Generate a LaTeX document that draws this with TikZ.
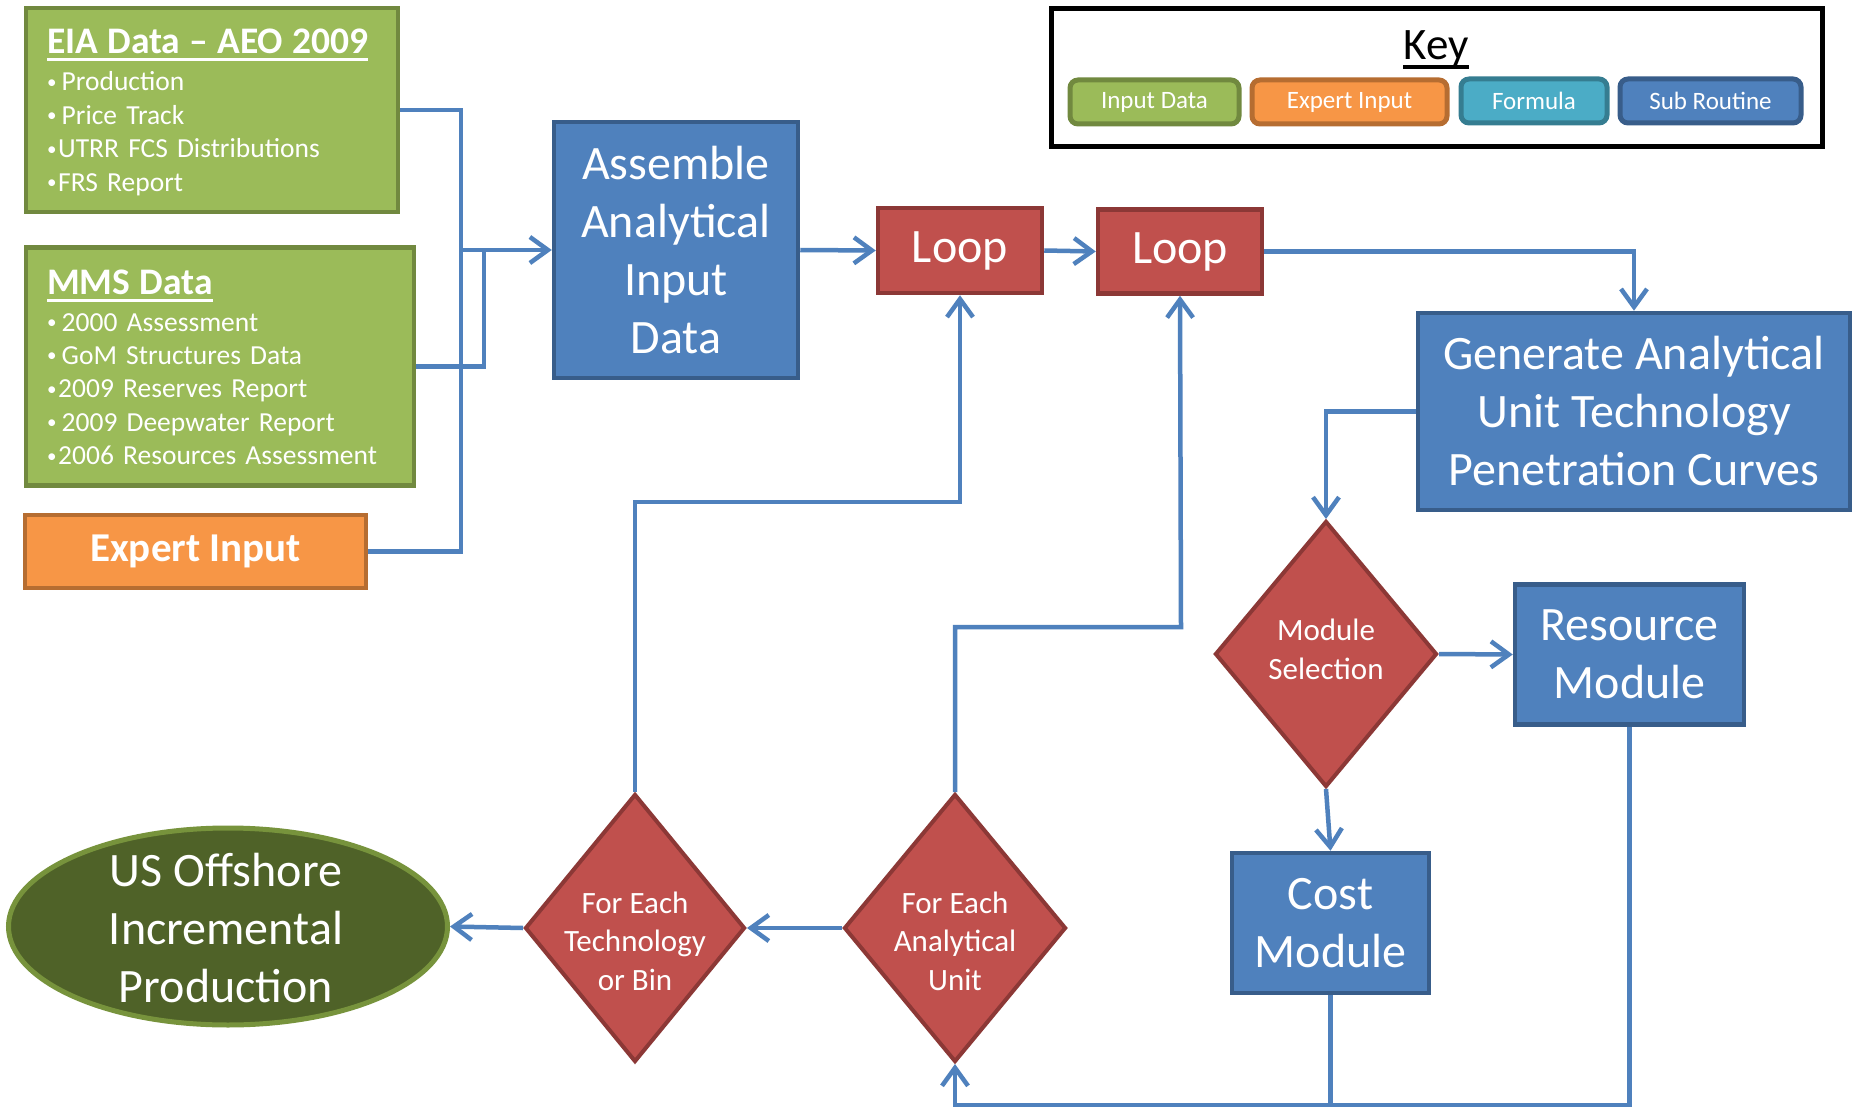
\documentclass[tikz,border=0pt]{standalone}
\usepackage{fontspec}
\setmainfont{Carlito}
\usetikzlibrary{arrows.meta,shapes.geometric}
\definecolor{ingreen}{HTML}{9BBB59}
\definecolor{ingreenD}{HTML}{71893F}
\definecolor{exorange}{HTML}{F79646}
\definecolor{exorangeD}{HTML}{B66D31}
\definecolor{formteal}{HTML}{4BACC6}
\definecolor{formtealD}{HTML}{357D91}
\definecolor{subblue}{HTML}{4F81BD}
\definecolor{subblueD}{HTML}{385D8A}
\definecolor{loopred}{HTML}{C0504D}
\definecolor{loopredD}{HTML}{8C3836}
\definecolor{ellgreen}{HTML}{4F6228}
\definecolor{ellgreenD}{HTML}{77933C}
\definecolor{connblue}{HTML}{4F81BD}
\newcommand{\myul}[1]{\setbox0\hbox{#1}\rlap{\rule[-0.2em]{\wd0}{0.08em}}\box0}
\newcommand{\fsz}[2]{\fontsize{#1}{#2}\selectfont}
\newcommand{\smallbul}{\raisebox{2.5pt}{\fontsize{19}{19}\selectfont•}}
\newcommand{\bulS}{\makebox[14.5pt][l]{\smallbul}}
\newcommand{\bulN}{\makebox[11pt][l]{\smallbul}}
\tikzset{
  boxbase/.style={draw, line width=4.5pt, inner sep=0pt, text=white, align=center},
  inputbox/.style={boxbase, fill=ingreen, draw=ingreenD},
  expertbox/.style={boxbase, fill=exorange, draw=exorangeD},
  subbox/.style={boxbase, fill=subblue, draw=subblueD, font=\fsz{48}{58}},
  loopbox/.style={boxbase, fill=loopred, draw=loopredD, font=\fsz{48}{58}},
  decision/.style={diamond, draw=loopredD, fill=loopred, line width=4pt, inner sep=0pt},
  dtext/.style={text=white, align=center, font=\fsz{31}{38.5}, inner sep=0pt},
  listtext/.style={text=white, align=left, text width=350pt, inner sep=0pt, font=\fsz{27.5}{33.4}},
  legendbox/.style={draw, line width=5pt, rounded corners=8pt, text=white, font=\fsz{25}{30}, inner sep=0pt},
  conn/.style={draw=connblue, line width=4.5pt},
  >={Straight Barb[length=18pt,width=26pt]}
}
\begin{document}
\begin{tikzpicture}[x=1pt,y=-1pt]
\useasboundingbox (0,0) rectangle (1853,1107);
\fill[white] (0,0) rectangle (1853,1107);

% input data boxes
\node[inputbox, minimum width=372pt, minimum height=204pt] (eia) at (212,110) {};
\node[listtext, anchor=base west] (eiaT) at (47,54)
  {{\fsz{37.5}{40}\bfseries\myul{EIA Data – AEO 2009}}\\[3.6pt]
   \bulS Production\\
   \bulS Price Track\\
   \bulN UTRR FCS Distributions\\
   \bulN FRS Report};
\node[inputbox, minimum width=388pt, minimum height=238pt] (mms) at (220,366.5) {};
\node[listtext, anchor=base west] (mmsT) at (47,294.5)
  {{\fsz{37.5}{40}\bfseries\myul{MMS Data}}\\[3.1pt]
   \bulS 2000 Assessment\\
   \bulS GoM Structures Data\\
   \bulN 2009 Reserves Report\\
   \bulS 2009 Deepwater Report\\
   \bulN 2006 Resources Assessment};
\node[expertbox, minimum width=341pt, minimum height=73pt, font=\fsz{41}{48}\bfseries] (exp) at (195.5,551.5) {Expert Input};

% main flow
\node[subbox, minimum width=244pt, minimum height=256pt] (asm) at (676,250) {Assemble\\Analytical\\Input\\Data};
\node[loopbox, minimum width=164pt, minimum height=85pt] (loop1) at (960,250.5) {Loop};
\node[loopbox, minimum width=164pt, minimum height=84pt] (loop2) at (1180,251.5) {Loop};
\node[subbox, minimum width=432pt, minimum height=197pt] (gen) at (1634,411.5) {Generate Analytical\\Unit Technology\\Penetration Curves};
\node[decision, minimum width=222pt, minimum height=266pt] (ms) at (1326,654) {};
\node[dtext] (msT) at (1326,649.5) {Module\\Selection};
\node[subbox, minimum width=229pt, minimum height=140pt] (res) at (1629.5,654.5) {Resource\\Module};
\node[subbox, minimum width=197pt, minimum height=140pt] (cost) at (1330.5,923) {Cost\\Module};
\node[decision, minimum width=222pt, minimum height=268pt] (au) at (955,928) {};
\node[dtext] (auT) at (955,941) {For Each\\Analytical\\Unit};
\node[decision, minimum width=220pt, minimum height=268pt] (tech) at (635,928) {};
\node[dtext] (techT) at (635,941) {For Each\\Technology\\or Bin};
\node[ellipse, draw=ellgreenD, fill=ellgreen, line width=5pt, minimum width=439pt, minimum height=197pt, inner sep=0pt] (ell) at (228,926.5) {};
\node[text=white, align=center, font=\fsz{48}{58}, inner sep=0pt] (ellT) at (226,928) {US Offshore\\Incremental\\Production};

% key
\node[draw=black, line width=5pt, minimum width=771pt, minimum height=138pt, inner sep=0pt] (key) at (1436.5,78) {};
\node[font=\fsz{45}{50}, inner sep=0pt] (keyT) at (1436,50) {\myul{Key}};
\node[legendbox, draw=ingreenD, fill=ingreen, minimum width=169pt, minimum height=44pt] (lin) at (1154.5,102) {Input Data};
\node[legendbox, draw=exorangeD, fill=exorange, minimum width=195pt, minimum height=44pt] (lexp) at (1349.5,102) {Expert Input};
\node[legendbox, draw=formtealD, fill=formteal, minimum width=146pt, minimum height=44pt] (lform) at (1534,101) {Formula};
\node[legendbox, draw=subblueD, fill=subblue, minimum width=181pt, minimum height=44pt] (lsub) at (1710.5,101) {Sub Routine};

% helper coordinates
\coordinate (j1) at (461,250);
\coordinate (j2) at (484,250);
\coordinate (k1) at (960,502);
\coordinate (k2) at (1181,627);
\coordinate (bot) at (0,1105);

% connectors
\draw[conn] (eia.east) -| (j1) |- (exp.east);
\draw[conn] (mms.east) -| (j2);
\draw[conn,->] (j1) -- (asm.west);
\draw[conn,->] (asm.east) -- (loop1.west);
\draw[conn,->] (loop1.east) -- (loop2.west);
\draw[conn,->] (loop2.east) -| (gen.north);
\draw[conn,->] (gen.west) -| (ms.north);
\draw[conn,->] (ms.east) -- (res.west);
\draw[conn,->] (ms.south) -- (cost.north);
\draw[conn,->] (cost.south) |- (au.south |- bot) -- (au.south);
\draw[conn] (res.south) |- (cost.south |- bot);
\draw[conn,->] (au.west) -- (tech.east);
\draw[conn,->] (tech.west) -- (ell.east);
\draw[conn,->] (tech.north) |- (k1) -- (loop1.south);
\draw[conn,->] (au.north) |- (k2) -- (loop2.south);
\end{tikzpicture}
\end{document}
